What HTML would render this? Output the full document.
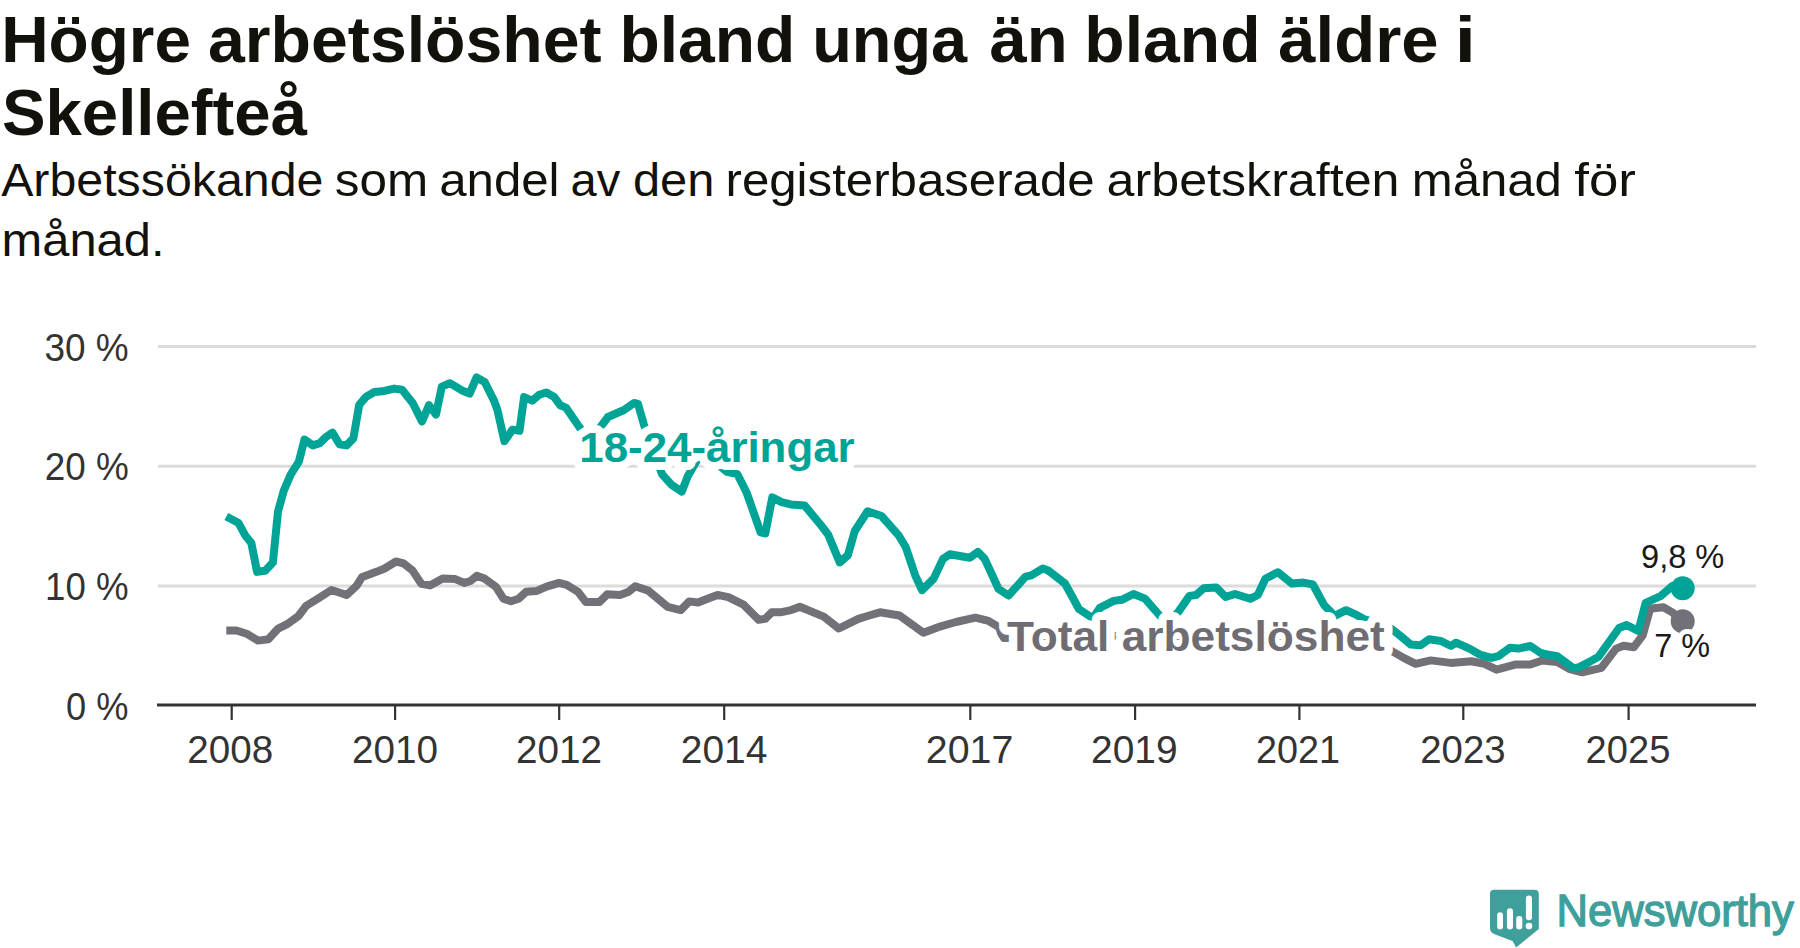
<!DOCTYPE html>
<html><head><meta charset="utf-8"><style>
html,body{margin:0;padding:0;background:#fff;width:1800px;height:948px;overflow:hidden}
svg{position:absolute;left:0;top:0;display:block}
text{font-family:"Liberation Sans",sans-serif}
</style></head><body>
<svg width="1800" height="948" viewBox="0 0 1800 948">
<g fill="#12110c">
<text x="1.17" y="62" font-size="65" font-weight="bold" textLength="189.76" lengthAdjust="spacingAndGlyphs" >Högre</text>
<text x="208.01" y="62" font-size="65" font-weight="bold" textLength="393.67" lengthAdjust="spacingAndGlyphs" >arbetslöshet</text>
<text x="619.40" y="62" font-size="65" font-weight="bold" textLength="175.86" lengthAdjust="spacingAndGlyphs" >bland</text>
<text x="812.23" y="62" font-size="65" font-weight="bold" textLength="154.93" lengthAdjust="spacingAndGlyphs" >unga</text>
<text x="989.50" y="62" font-size="65" font-weight="bold" textLength="78.34" lengthAdjust="spacingAndGlyphs" >än</text>
<text x="1084.39" y="62" font-size="65" font-weight="bold" textLength="176.12" lengthAdjust="spacingAndGlyphs" >bland</text>
<text x="1278.26" y="62" font-size="65" font-weight="bold" textLength="160.28" lengthAdjust="spacingAndGlyphs" >äldre</text>
<text x="1454.67" y="62" font-size="65" font-weight="bold" textLength="21.14" lengthAdjust="spacingAndGlyphs" >i</text>
<text x="1.94" y="135" font-size="65" font-weight="bold" textLength="305.09" lengthAdjust="spacingAndGlyphs" >Skellefteå</text>
<text x="1.15" y="196" font-size="47" textLength="322.27" lengthAdjust="spacingAndGlyphs" >Arbetssökande</text>
<text x="334.87" y="196" font-size="47" textLength="93.35" lengthAdjust="spacingAndGlyphs" >som</text>
<text x="439.18" y="196" font-size="47" textLength="120.35" lengthAdjust="spacingAndGlyphs" >andel</text>
<text x="570.52" y="196" font-size="47" textLength="49.67" lengthAdjust="spacingAndGlyphs" >av</text>
<text x="632.95" y="196" font-size="47" textLength="81.45" lengthAdjust="spacingAndGlyphs" >den</text>
<text x="725.50" y="196" font-size="47" textLength="369.18" lengthAdjust="spacingAndGlyphs" >registerbaserade</text>
<text x="1106.64" y="196" font-size="47" textLength="292.84" lengthAdjust="spacingAndGlyphs" >arbetskraften</text>
<text x="1411.76" y="196" font-size="47" textLength="150.11" lengthAdjust="spacingAndGlyphs" >månad</text>
<text x="1574.26" y="196" font-size="47" textLength="61.64" lengthAdjust="spacingAndGlyphs" >för</text>
<text x="1.58" y="256" font-size="47" textLength="162.89" lengthAdjust="spacingAndGlyphs" >månad.</text>
</g>
<g stroke="#dcdcdc" stroke-width="3">
<line x1="158" y1="346.4" x2="1756" y2="346.4"/>
<line x1="158" y1="466.2" x2="1756" y2="466.2"/>
<line x1="158" y1="586" x2="1756" y2="586"/>
</g>
<g fill="#333">
<text x="44.50" y="360.8" font-size="38.5" textLength="84.21" lengthAdjust="spacingAndGlyphs" >30 %</text>
<text x="44.66" y="480.2" font-size="38.5" textLength="84.05" lengthAdjust="spacingAndGlyphs" >20 %</text>
<text x="45.11" y="599.9" font-size="38.5" textLength="83.58" lengthAdjust="spacingAndGlyphs" >10 %</text>
<text x="65.92" y="719.7" font-size="38.5" textLength="62.45" lengthAdjust="spacingAndGlyphs" >0 %</text>
<text x="187.27" y="763" font-size="38.5" textLength="85.85" lengthAdjust="spacingAndGlyphs" >2008</text>
<text x="352.07" y="763" font-size="38.5" textLength="86.03" lengthAdjust="spacingAndGlyphs" >2010</text>
<text x="515.97" y="763" font-size="38.5" textLength="85.99" lengthAdjust="spacingAndGlyphs" >2012</text>
<text x="680.75" y="763" font-size="38.5" textLength="86.66" lengthAdjust="spacingAndGlyphs" >2014</text>
<text x="925.83" y="763" font-size="38.5" textLength="87.56" lengthAdjust="spacingAndGlyphs" >2017</text>
<text x="1091.06" y="763" font-size="38.5" textLength="86.54" lengthAdjust="spacingAndGlyphs" >2019</text>
<text x="1256.01" y="763" font-size="38.5" textLength="84.03" lengthAdjust="spacingAndGlyphs" >2021</text>
<text x="1420.28" y="763" font-size="38.5" textLength="85.33" lengthAdjust="spacingAndGlyphs" >2023</text>
<text x="1585.60" y="763" font-size="38.5" textLength="84.73" lengthAdjust="spacingAndGlyphs" >2025</text>
</g>
<line x1="157" y1="705" x2="1756" y2="705" stroke="#333" stroke-width="3.2"/>
<g stroke="#333" stroke-width="2.2">
<line x1="231.7" y1="705" x2="231.7" y2="720"/>
<line x1="395.1" y1="705" x2="395.1" y2="720"/>
<line x1="559.2" y1="705" x2="559.2" y2="720"/>
<line x1="724.2" y1="705" x2="724.2" y2="720"/>
<line x1="970.3" y1="705" x2="970.3" y2="720"/>
<line x1="1135.1" y1="705" x2="1135.1" y2="720"/>
<line x1="1299.4" y1="705" x2="1299.4" y2="720"/>
<line x1="1463.3" y1="705" x2="1463.3" y2="720"/>
<line x1="1628.6" y1="705" x2="1628.6" y2="720"/>
</g>
<path d="M226.3,630.5 L236.5,630.5 L246.6,633.7 L258.0,640.6 L268.1,639.4 L278.2,628.6 L287.1,624.2 L298.5,616.0 L306.1,605.8 L317.5,598.9 L331.4,590.0 L341.5,593.2 L346.6,595.1 L356.7,585.6 L361.8,577.3 L377.0,571.6 L384.6,568.5 L396.0,561.5 L403.5,563.4 L412.4,570.4 L421.3,583.7 L430.0,585.4 L442.7,578.5 L455.3,579.1 L464.2,582.9 L470.5,581.0 L476.8,575.9 L484.4,578.5 L495.8,586.7 L503.4,598.7 L511.0,601.3 L518.6,598.7 L526.2,591.8 L536.3,591.1 L546.5,586.7 L559.1,582.9 L566.7,584.8 L578.1,591.8 L585.7,601.9 L599.6,601.9 L607.2,594.3 L620.0,594.9 L628.7,591.7 L635.2,586.3 L648.2,590.6 L667.7,606.8 L680.7,610.1 L689.3,601.4 L698.0,602.5 L708.8,598.2 L717.5,594.9 L728.3,597.1 L743.5,604.7 L758.7,619.8 L765.2,618.8 L771.7,612.3 L780.3,612.3 L791.2,610.1 L799.8,606.8 L823.7,616.6 L838.8,628.5 L858.3,618.8 L869.2,615.5 L880.0,612.3 L899.5,615.5 L923.4,632.8 L940.7,626.3 L955.9,622.0 L975.4,617.7 L988.4,620.9 L999.2,627.4 L1001.4,633.9 L1004.0,638.0 L1060.0,637.0 L1117.0,636.0 L1180.0,640.0 L1300.0,644.0 L1391.9,651.1 L1403.7,657.9 L1415.6,663.8 L1430.7,660.4 L1451.0,662.9 L1471.2,661.2 L1484.7,663.8 L1496.5,669.7 L1515.1,664.6 L1530.3,664.6 L1542.1,660.4 L1557.3,662.1 L1569.1,668.8 L1582.2,672.3 L1601.4,667.8 L1616.1,648.6 L1623.5,645.7 L1633.9,647.2 L1642.7,635.3 L1650.1,608.8 L1656.0,608.0 L1663.4,607.3 L1672.3,612.4 L1681.9,620.6" fill="none" stroke="#737178" stroke-width="8" stroke-linejoin="round"/>
<path d="M226.3,516.5 L238.6,523.1 L245.1,535.2 L251.3,542.9 L257.1,571.9 L265.2,570.7 L272.9,562.6 L278.0,511.5 L283.8,490.6 L290.8,474.4 L298.9,461.6 L304.5,439.6 L312.8,445.4 L319.8,443.1 L325.6,437.3 L332.5,432.6 L339.5,444.2 L346.5,445.4 L353.4,438.4 L359.2,404.8 L366.2,396.7 L374.3,392.0 L382.4,391.3 L394.0,388.6 L402.1,389.7 L412.7,403.0 L422.0,421.5 L429.0,405.2 L436.0,414.5 L441.8,386.7 L449.9,383.2 L461.5,390.2 L469.6,393.6 L476.6,377.4 L484.7,382.0 L494.0,400.6 L497.4,409.9 L504.4,441.2 L512.5,429.6 L519.5,430.8 L524.1,397.1 L532.3,400.6 L539.2,394.8 L546.2,392.5 L554.3,397.1 L560.1,405.2 L565.9,407.6 L581.0,429.6 L590.0,440.0 L602.0,425.0 L608.0,417.0 L624.0,410.0 L634.0,403.0 L638.0,404.0 L644.0,425.0 L662.0,474.2 L671.3,484.7 L681.8,491.6 L687.6,476.6 L700.0,455.0 L715.0,462.0 L727.0,471.9 L737.4,474.2 L746.7,492.8 L760.6,532.3 L765.3,533.4 L772.3,497.4 L781.5,502.1 L790.8,504.4 L804.7,505.6 L821.0,525.3 L828.1,534.5 L839.7,562.4 L847.8,555.4 L854.8,531.0 L867.6,511.3 L881.5,516.0 L898.9,535.7 L905.8,547.3 L915.1,575.1 L922.1,590.2 L933.7,578.6 L943.0,558.9 L949.9,554.2 L969.7,557.7 L977.8,551.9 L984.7,558.9 L998.6,589.0 L1008.5,595.5 L1017.4,585.8 L1025.5,576.6 L1031.3,575.4 L1042.9,568.4 L1048.7,570.8 L1065.0,583.5 L1078.9,609.0 L1092.8,618.3 L1099.8,607.9 L1113.7,600.9 L1121.8,599.8 L1133.4,594.0 L1145.0,598.6 L1160.1,616.0 L1168.0,624.0 L1178.7,611.4 L1189.5,595.9 L1196.1,595.0 L1203.7,588.3 L1216.1,587.4 L1225.6,596.9 L1235.0,594.0 L1250.2,598.8 L1257.8,595.0 L1265.4,578.8 L1277.8,572.2 L1292.0,583.6 L1303.4,582.6 L1312.9,584.5 L1324.3,605.4 L1334.7,615.9 L1346.1,610.2 L1356.5,614.9 L1365.1,619.7 L1380.0,623.0 L1391.9,629.2 L1400.4,635.9 L1410.5,644.4 L1420.6,645.2 L1429.1,639.3 L1440.9,641.0 L1451.0,646.0 L1456.0,642.7 L1469.5,648.6 L1479.7,654.5 L1491.5,657.9 L1498.2,656.2 L1510.0,647.7 L1518.5,648.6 L1530.3,646.0 L1540.4,652.8 L1547.2,654.5 L1557.3,656.2 L1564.0,661.2 L1574.2,668.8 L1580.7,666.4 L1589.5,661.9 L1598.4,656.8 L1619.1,628.0 L1626.5,625.0 L1638.3,630.9 L1645.7,602.8 L1660.5,596.2 L1672.3,585.9 L1682.6,587.3" fill="none" stroke="#00a497" stroke-width="8" stroke-linejoin="round"/>
<circle cx="1682.7" cy="588.2" r="12" fill="#00a497"/>
<circle cx="1682.7" cy="621.2" r="12" fill="#737178"/>
<text x="579.28" y="462.4" font-size="42" font-weight="bold" textLength="275.37" lengthAdjust="spacingAndGlyphs" fill="#00a497" paint-order="stroke" stroke="#fff" stroke-width="16" stroke-linejoin="round">18-24-åringar</text>
<text x="1006.97" y="651.2" font-size="42" font-weight="bold" textLength="377.80" lengthAdjust="spacingAndGlyphs" fill="#6f6d73" paint-order="stroke" stroke="#fff" stroke-width="16" stroke-linejoin="round">Total arbetslöshet</text>
<text x="1641.00" y="568" font-size="33" textLength="83.35" lengthAdjust="spacingAndGlyphs" fill="#1a1a1a" paint-order="stroke" stroke="#fff" stroke-width="10" stroke-linejoin="round">9,8 %</text>
<text x="1654.22" y="657.3" font-size="33" textLength="55.82" lengthAdjust="spacingAndGlyphs" fill="#1a1a1a" paint-order="stroke" stroke="#fff" stroke-width="10" stroke-linejoin="round">7 %</text>
<path d="M1494,889.7 H1534.5 Q1538.8,889.7 1538.8,894 V929 L1516,947.5 Q1514.5,944 1512.5,941 L1494,934 Q1490,932 1490,928 V894 Q1490,889.7 1494,889.7 Z" fill="#3f9f9a"/>
<g fill="#fff">
<rect x="1497.2" y="912.3" width="5.8" height="17.2" rx="2.9"/>
<rect x="1506.9" y="908.3" width="6.1" height="21.2" rx="3"/>
<rect x="1516.2" y="915.9" width="6.1" height="13.6" rx="3"/>
<rect x="1525.9" y="895.4" width="6.1" height="24.8" rx="3"/>
<circle cx="1529" cy="926.1" r="3.3"/>
</g>
<text x="1556.42" y="926" font-size="43.5" textLength="237.45" lengthAdjust="spacingAndGlyphs" fill="#3f9f9a" stroke="#3f9f9a" stroke-width="1.3">Newsworthy</text>
</svg>
</body></html>
